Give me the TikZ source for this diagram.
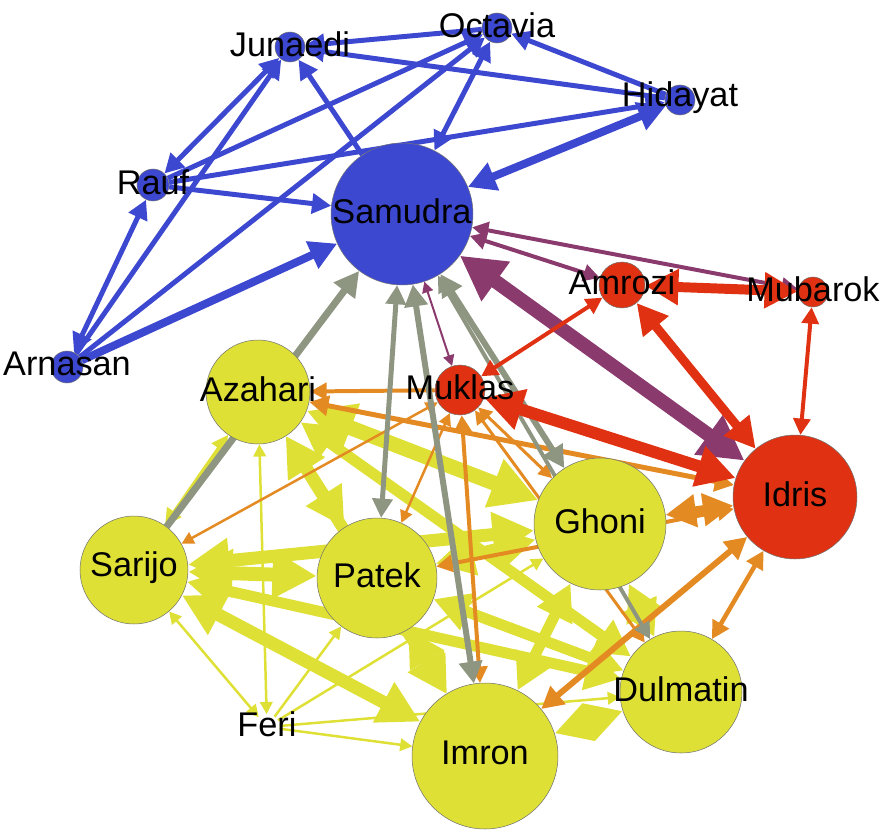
\documentclass[tikz,border=0pt]{standalone}
\usepackage{fontspec}
\setmainfont{Liberation Sans}
\usetikzlibrary{arrows.meta,backgrounds}
\definecolor{NetBlue}{RGB}{61,72,208}
\definecolor{NetYellow}{RGB}{222,224,53}
\definecolor{NetRed}{RGB}{224,50,18}
\definecolor{NetPurple}{RGB}{139,58,110}
\definecolor{NetGray}{RGB}{142,150,130}
\definecolor{NetOrange}{RGB}{228,138,35}

\begin{document}
\begin{tikzpicture}[
        x=0.02cm, y=-0.02cm,
        >={Triangle[length=3pt 2.8, width=3pt 2.9]},
        actor/.style={
            circle,
            draw=black!55,
            line width=0.3pt,
            inner sep=0pt
        },
        bluenode/.style={actor, fill=NetBlue},
        rednode/.style={actor, fill=NetRed},
        yellownode/.style={actor, fill=NetYellow},
        lbl/.style={
            font=\fontsize{19.5}{20}\selectfont,
            text=black,
            inner sep=0pt,
            yshift=1.5pt
        },
        lw/.style={line width=#1*0.567pt},
        bl/.style={draw=NetBlue},
        ye/.style={draw=NetYellow},
        rd/.style={draw=NetRed},
        pu/.style={draw=NetPurple},
        gr/.style={draw=NetGray},
        og/.style={draw=NetOrange}
    ]
        \useasboundingbox (0,0) rectangle (890,832);

        % blue group
        \node[bluenode, minimum size=0.6cm, label={[lbl]center:Junaedi}] (jun) at (290,47) {};
        \node[bluenode, minimum size=0.6cm, label={[lbl]center:Octavia}] (oct) at (497,28) {};
        \node[bluenode, minimum size=0.6cm, label={[lbl]center:Hidayat}] (hid) at (680,100) {};
        \node[bluenode, minimum size=0.64cm, label={[lbl]center:Rauf}] (rau) at (153,185) {};
        \node[bluenode, minimum size=2.84cm, label={[lbl]center:Samudra}] (sam) at (402,214) {};
        \node[bluenode, minimum size=0.64cm, label={[lbl]center:Arnasan}] (arn) at (67,367) {};

        % red group
        \node[rednode, minimum size=0.92cm, label={[lbl]center:Amrozi}] (amr) at (622,285) {};
        \node[rednode, minimum size=0.6cm, label={[lbl]center:Mubarok}] (mub) at (813,292) {};
        \node[rednode, minimum size=1.0cm, label={[lbl]center:Muklas}] (muk) at (460,390) {};
        \node[rednode, minimum size=2.48cm, label={[lbl]center:Idris}] (idr) at (795,497) {};

        % yellow group
        \node[yellownode, minimum size=2.08cm, label={[lbl]center:Azahari}] (aza) at (258,392) {};
        \node[yellownode, minimum size=2.64cm, label={[lbl]center:Ghoni}] (gho) at (600,524) {};
        \node[yellownode, minimum size=2.16cm, label={[lbl]center:Sarijo}] (sar) at (134,570) {};
        \node[yellownode, minimum size=2.4cm, label={[lbl]center:Patek}] (pat) at (377,578) {};
        \node[yellownode, minimum size=2.44cm, label={[lbl]center:Dulmatin}] (dul) at (681,692) {};
        \node[yellownode, minimum size=2.92cm, label={[lbl]center:Imron}] (imr) at (485,756) {};
        \node[circle, inner sep=0pt, minimum size=0.5cm, label={[lbl]center:Feri}] (fer) at (267,727) {};

        \begin{scope}[on background layer]
            % yellow ties
            \draw[ye, <->, lw=15] (aza) -- (gho);
            \draw[ye, <->, lw=12] (aza) -- (imr);
            \draw[ye, <->, lw=11] (aza) -- (dul);
            \draw[ye, <->, lw=12] (aza) -- (pat);
            \draw[ye, <->, lw=4] (aza) -- (sar);
            \draw[ye, <->, lw=14] (sar) -- (pat);
            \draw[ye, <->, lw=13] (sar) -- (gho);
            \draw[ye, <->, lw=13] (sar) -- (imr);
            \draw[ye, <->, lw=11] (sar) -- (dul);
            \draw[ye, <->, lw=12] (pat) -- (gho);
            \draw[ye, <->, lw=11] (pat) -- (imr);
            \draw[ye, <->, lw=11] (pat) -- (dul);
            \draw[ye, <->, lw=11] (gho) -- (imr);
            \draw[ye, <->, lw=11] (gho) -- (dul);
            \draw[ye, <->, lw=11] (imr) -- (dul);
            \draw[ye, <->, lw=2.5] (fer) -- (aza);
            \draw[ye, <->, lw=2.5] (fer) -- (sar);
            \draw[ye, ->, lw=2.5] (fer) -- (pat);
            \draw[ye, ->, lw=2.5] (fer) -- (gho);
            \draw[ye, ->, lw=2.5] (fer) -- (imr);
            \draw[ye, ->, lw=2.5] (fer) -- (dul);

            % orange ties
            \draw[og, ->, lw=4] (muk) -- (aza);
            \draw[og, <->, lw=5] (idr) -- (aza);
            \draw[og, <->, lw=2.5] (sar) -- (muk);
            \draw[og, <->, lw=2.5] (muk) -- (pat);
            \draw[og, <->, lw=4] (muk) -- (imr);
            \draw[og, <->, lw=3] (muk) -- (gho);
            \draw[og, <->, lw=3] (muk) -- (dul);
            \draw[og, <->, lw=4] (pat) -- (idr);
            \draw[og, <->, lw=9] (gho) -- (idr);
            \draw[og, <->, lw=4.5] (dul) -- (idr);
            \draw[og, <->, lw=6] (imr) -- (idr);

            % gray ties
            \draw[gr, <-, lw=7] (sam) -- (sar);
            \draw[gr, <->, lw=5] (sam) -- (pat);
            \draw[gr, <->, lw=6] (sam) -- (imr);
            \draw[gr, <->, lw=6] (sam) -- (gho);
            \draw[gr, <->, lw=4] (sam) -- (dul);

            % purple ties
            \draw[pu, <->, lw=2] (sam) -- (muk);
            \draw[pu, <->, lw=4] (sam) -- (amr);
            \draw[pu, <->, lw=4] (sam) -- (mub);
            \draw[pu, <->, lw=14] (sam) -- (idr);

            % red ties
            \draw[rd, <->, lw=10] (amr) -- (mub);
            \draw[rd, <->, lw=9] (amr) -- (idr);
            \draw[rd, <->, lw=4] (mub) -- (idr);
            \draw[rd, <->, lw=4] (amr) -- (muk);
            \draw[rd, <->, lw=12] (muk) -- (idr);

            % blue ties
            \draw[bl, ->, lw=5] (oct) -- (jun);
            \draw[bl, ->, lw=5] (hid) -- (jun);
            \draw[bl, ->, lw=5] (hid) -- (oct);
            \draw[bl, ->, lw=5] (rau) -- (hid);
            \draw[bl, <->, lw=8] (sam) -- (hid);
            \draw[bl, ->, lw=5] (sam) -- (jun);
            \draw[bl, ->, lw=5] (rau) -- (oct);
            \draw[bl, ->, lw=5] (arn) -- (oct);
            \draw[bl, <->, lw=5] (oct) -- (sam);
            \draw[bl, ->, lw=5] (rau) -- (sam);
            \draw[bl, <->, lw=5] (rau) -- (jun);
            \draw[bl, ->, lw=5] (arn) -- (jun);
            \draw[bl, <->, lw=5] (arn) -- (rau);
            \draw[bl, ->, lw=8] (arn) -- (sam);
        \end{scope}
    \end{tikzpicture}
\end{document}
